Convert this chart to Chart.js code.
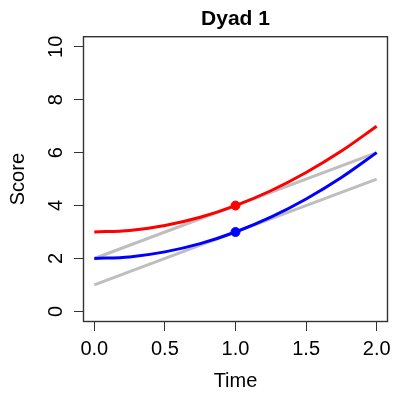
<!DOCTYPE html>
<html>
<head>
<meta charset="utf-8">
<script src="https://cdn.jsdelivr.net/npm/chart.js@4.4.0/dist/chart.umd.min.js"></script>
<style>
html, body { margin: 0; padding: 0; background: #fff; }
#wrap { width: 394px; height: 393px; }
</style>
</head>
<body>
<div id="wrap"><canvas id="grafica"></canvas></div>
<script>
// datos
var tiempo = [0, 0.25, 0.5, 0.75, 1, 1.25, 1.5, 1.75, 2];
var curvaRoja = [3.0, 3.06, 3.25, 3.56, 4.0, 4.56, 5.25, 6.06, 7.0];
var curvaAzul = [2.0, 2.06, 2.25, 2.56, 3.0, 3.56, 4.25, 5.06, 6.0];
var tiempoRecta = [0, 2];
var rectaRoja = [2, 6];
var rectaAzul = [1, 5];
var tiempoPunto = [1];
var puntoRojo = [4];
var puntoAzul = [3];
var ticksX = [0, 0.5, 1, 1.5, 2];
var ticksY = [0, 2, 4, 6, 8, 10];

var fuente = "'Liberation Sans', Arial, Helvetica, sans-serif";

function pares(xs, ys) {
  var out = [];
  for (var i in xs) {
    out.push({x: xs[i], y: ys[i]});
  }
  return out;
}

// caja alrededor del area de la grafica
var caja = {
  id: 'caja',
  afterDraw: function(chart) {
    var ctx = chart.ctx;
    var a = chart.chartArea;
    ctx.save();
    ctx.strokeStyle = '#333';
    ctx.lineWidth = 1.4;
    ctx.strokeRect(a.left + 0.5, a.top + 0.5, a.right - a.left - 1, a.bottom - a.top - 1);
    ctx.restore();
  }
};

var datosGrafica = {
  datasets: [{
      label: 'punto rojo',
      data: pares(tiempoPunto, puntoRojo),
      showLine: false,
      pointRadius: 4.5,
      backgroundColor: '#ff0000',
      borderColor: '#ff0000'
    }, {
      label: 'punto azul',
      data: pares(tiempoPunto, puntoAzul),
      showLine: false,
      pointRadius: 4.5,
      backgroundColor: '#0000ff',
      borderColor: '#0000ff'
    }, {
      label: 'roja',
      data: pares(tiempo, curvaRoja),
      showLine: true,
      fill: false,
      borderColor: '#ff0000',
      borderWidth: 3,
      pointRadius: 0,
      cubicInterpolationMode: 'monotone'
    }, {
      label: 'azul',
      data: pares(tiempo, curvaAzul),
      showLine: true,
      fill: false,
      borderColor: '#0000ff',
      borderWidth: 3,
      pointRadius: 0,
      cubicInterpolationMode: 'monotone'
    }, {
      label: 'recta roja',
      data: pares(tiempoRecta, rectaRoja),
      showLine: true,
      fill: false,
      borderColor: '#bebebe',
      borderWidth: 3,
      pointRadius: 0
    }, {
      label: 'recta azul',
      data: pares(tiempoRecta, rectaAzul),
      showLine: true,
      fill: false,
      borderColor: '#bebebe',
      borderWidth: 3,
      pointRadius: 0
    }]
};

var grafica = document.getElementById('grafica');
var scatter = new Chart(grafica, {
  type: 'scatter',
  data: datosGrafica,
  plugins: [caja],
  options: {
    responsive: true,
    maintainAspectRatio: false,
    animation: false,
    layout: { padding: { left: 0, right: 6, top: 0, bottom: 0 } },
    plugins: {
      legend: { display: false },
      tooltip: { enabled: false },
      title: {
        display: true,
        text: 'Dyad 1',
        fullSize: false,
        color: '#000',
        font: { family: fuente, size: 21, weight: 'bold' },
        padding: { top: 7, bottom: 4 }
      }
    },
    scales: {
      x: {
        type: 'linear',
        min: -0.08,
        max: 2.08,
        afterBuildTicks: function(s) { s.ticks = ticksX.map(function(v) { return {value: v}; }); },
        afterFit: function(s) { s.height = 71; s.paddingLeft = 0; s.paddingRight = 0; },
        border: { display: false },
        grid: { drawOnChartArea: false, drawTicks: true, tickLength: 9, color: '#333' },
        ticks: {
          color: '#000',
          padding: 6,
          maxRotation: 0,
          font: { family: fuente, size: 20 },
          callback: function(v) { return v.toFixed(1); }
        },
        title: {
          display: true,
          text: 'Time',
          color: '#000',
          font: { family: fuente, size: 20 },
          padding: 0
        }
      },
      y: {
        type: 'linear',
        min: -0.4,
        max: 10.4,
        afterBuildTicks: function(s) { s.ticks = ticksY.map(function(v) { return {value: v}; }); },
        afterFit: function(s) { s.width = 83; s.paddingTop = 0; s.paddingBottom = 0; },
        border: { display: false },
        grid: { drawOnChartArea: false, drawTicks: true, tickLength: 9, color: '#333' },
        ticks: {
          color: '#000',
          padding: 6,
          minRotation: 90,
          maxRotation: 90,
          crossAlign: 'center',
          font: { family: fuente, size: 20 },
          callback: function(v) { return String(v); }
        },
        title: {
          display: true,
          text: 'Score',
          color: '#000',
          font: { family: fuente, size: 20 },
          padding: 6
        }
      }
    }
  }
});
</script>
</body>
</html>
